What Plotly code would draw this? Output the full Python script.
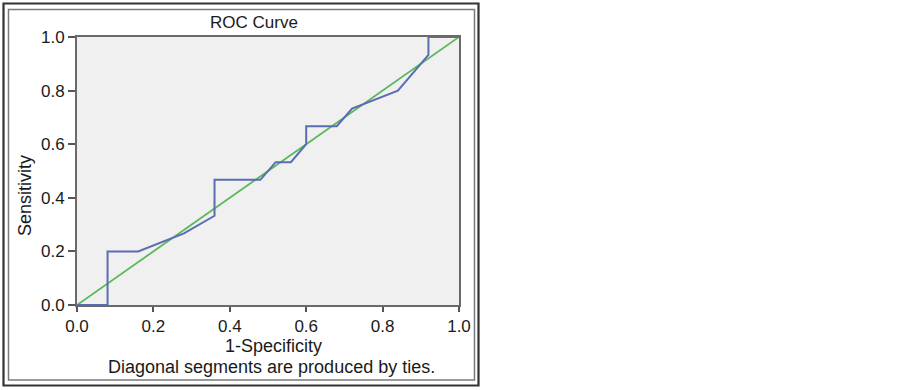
import plotly.graph_objects as go

# ROC curve data (1-Specificity, Sensitivity)
fpr = [0.0, 0.08, 0.08, 0.16, 0.28, 0.36, 0.36, 0.48, 0.52, 0.56, 0.60, 0.60, 0.68, 0.72, 0.84, 0.92, 0.92, 1.0]
tpr = [0.0, 0.0, 0.20, 0.20, 0.267, 0.333, 0.467, 0.467, 0.533, 0.533, 0.60, 0.667, 0.667, 0.733, 0.80, 0.933, 1.0, 1.0]
ref_x = [0.0, 1.0]
ref_y = [0.0, 1.0]
tick_vals = [0.0, 0.2, 0.4, 0.6, 0.8, 1.0]
tick_text = ["0.0", "0.2", "0.4", "0.6", "0.8", "1.0"]

FONT = "Liberation Sans, Arial, sans-serif"
TXT = "#1a1a1a"
FS = 17

fig = go.Figure()
fig.add_trace(go.Scatter(x=ref_x, y=ref_y, mode="lines",
                         line=dict(color="#5cb85c", width=1.8),
                         cliponaxis=False, showlegend=False, hoverinfo="skip"))
fig.add_trace(go.Scatter(x=fpr, y=tpr, mode="lines",
                         line=dict(color="#5a6db3", width=2),
                         cliponaxis=False, showlegend=False))

axis_common = dict(range=[0, 1], showgrid=False, zeroline=False,
                   showline=True, linecolor="#6a6a6a", linewidth=2, mirror=True,
                   ticks="outside", tickwidth=2, tickcolor="#555555",
                   tickvals=tick_vals, ticktext=tick_text,
                   tickfont=dict(family=FONT, size=FS, color=TXT))
fig.update_xaxes(ticklen=5, **axis_common)
fig.update_yaxes(ticklen=7, **axis_common)

L, R, T, B = 77, 459, 37, 305
def px(x):
    return (x - L) / (R - L)
def py(y):
    return (B - y) / (B - T)

annots = [
    dict(text="ROC Curve", x=px(254), y=py(23), size=17),
    dict(text="1-Specificity", x=px(273), y=py(346), size=18),
    dict(text="Diagonal segments are produced by ties.", x=px(271), y=py(367), size=18),
    dict(text="Sensitivity", x=px(25), y=py(196), textangle=-90, size=18),
]
for a in annots:
    size = a.pop("size")
    fig.add_annotation(xref="paper", yref="paper", showarrow=False,
                       xanchor="center", yanchor="middle",
                       font=dict(family=FONT, size=size, color=TXT), **a)

# double frame around the chart
fig.add_shape(type="rect", xref="paper", yref="paper",
              x0=px(3.5), x1=px(478.5), y0=py(3.5), y1=py(385.5),
              line=dict(color="#333333", width=2.2), layer="above")
fig.add_shape(type="rect", xref="paper", yref="paper",
              x0=px(8.5), x1=px(474.5), y0=py(9.5), y1=py(380),
              line=dict(color="#7a7a7a", width=1.5), layer="above")

fig.update_layout(width=902, height=390,
                  margin=dict(l=L, r=902 - R, t=T, b=390 - B),
                  paper_bgcolor="white", plot_bgcolor="#f0f0f0",
                  font=dict(family=FONT, color=TXT))
fig.write_html("out.html", config={"displayModeBar": False},
               post_script="document.body.style.margin='0';document.body.style.padding='0';")
